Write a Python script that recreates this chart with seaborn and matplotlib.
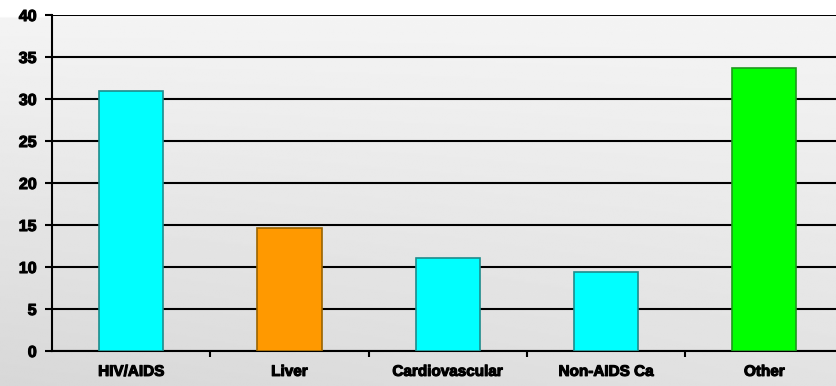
import numpy as np
import pandas as pd
import matplotlib
matplotlib.use("Agg")
import matplotlib.pyplot as plt
import matplotlib.patheffects as pe
import seaborn as sns

# Causes of death (%)
categories = ["HIV/AIDS", "Liver", "Cardiovascular", "Non-AIDS Ca", "Other"]
values = [31.0, 14.6, 11.1, 9.4, 33.7]
bar_colors = ["#00FFFF", "#FF9900", "#00FFFF", "#00FFFF", "#00FF00"]
edge_colors = ["#1E8C8C", "#9A6400", "#1E8C8C", "#1E8C8C", "#1E9A1E"]
y_ticks = [0, 5, 10, 15, 20, 25, 30, 35, 40]

sns.set_theme(style="white")
plt.rcParams["font.family"] = ["Liberation Sans", "DejaVu Sans"]

W, H, DPI = 836, 386, 100
fig = plt.figure(figsize=(W / DPI, H / DPI), dpi=DPI)
fig.patch.set_facecolor("white")

# soft grey backdrop, white band along the top
bg = fig.add_axes([0, 0, 1, 1], zorder=-10)
yy = np.linspace(0, 1, 200)[:, None]
xx = np.linspace(0, 1, 400)[None, :]
shade = 0.96 - 0.075 * yy - 0.04 * (1 - xx) * yy
shade = np.where(yy < 0.045, 1.0, shade)
bg.imshow(shade, cmap="gray", vmin=0, vmax=1, aspect="auto",
          extent=[0, 1, 1, 0], interpolation="bilinear")
bg.set_axis_off()

cat_w = 158.3
left_px, bottom_px, top_px = 52, 351, 15
ax = fig.add_axes([left_px / W, (H - bottom_px) / H,
                   cat_w * len(categories) / W, (bottom_px - top_px) / H])
ax.set_facecolor("none")

df = pd.DataFrame({"cause": categories, "pct": values})
sns.barplot(data=df, x="cause", y="pct", hue="cause", palette=bar_colors,
            width=0.405, legend=False, ax=ax, zorder=3, saturation=1)
for patch, ec in zip(ax.patches, edge_colors):
    patch.set_edgecolor(ec)
    patch.set_linewidth(1.2)

heavy = [pe.withStroke(linewidth=0.8, foreground="black")]

ax.set_xlim(-0.5, len(categories) - 0.5)
ax.set_ylim(0, 40)
ax.set_yticks(y_ticks)
ax.set_yticklabels([str(t) for t in y_ticks], fontsize=11.5, fontweight="bold",
                   path_effects=heavy)
ax.yaxis.grid(True, color="black", linewidth=1.5, zorder=1)
ax.set_axisbelow(True)

ax.set_xticks(range(len(categories)))
ax.set_xticklabels(categories, fontsize=11, fontweight="bold",
                   path_effects=heavy)
ax.set_xticks(np.arange(0.5, len(categories), 1.0), minor=True)
ax.tick_params(axis="x", which="major", length=0, pad=10, colors="black")
ax.tick_params(axis="x", which="minor", length=4, width=1.5, color="black",
               direction="out", bottom=True)
ax.tick_params(axis="y", length=5, width=1.5, color="black", direction="out",
               pad=6, left=True, colors="black")
ax.set_xlabel("")
ax.set_ylabel("")

for side in ("top", "right"):
    ax.spines[side].set_visible(False)
for side in ("left", "bottom"):
    ax.spines[side].set_color("black")
    ax.spines[side].set_linewidth(1.5)

fig.savefig("out.png", dpi=DPI)
